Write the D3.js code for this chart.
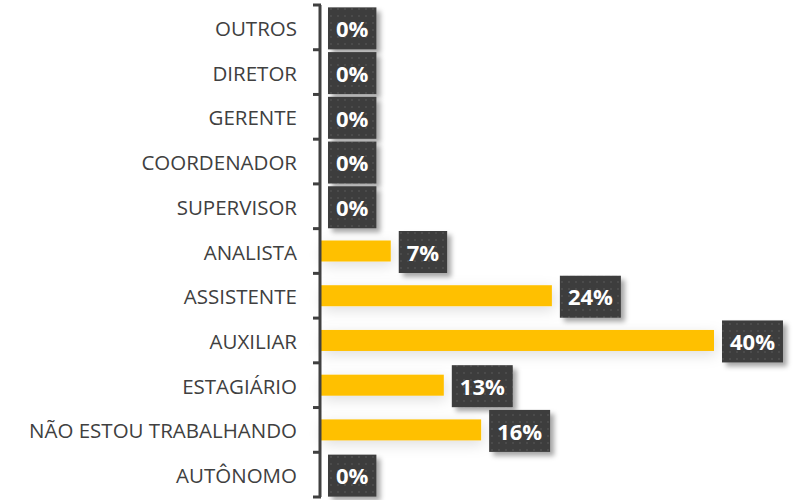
<!DOCTYPE html>
<html>
<head>
<meta charset="utf-8">
<script src="https://cdn.jsdelivr.net/npm/d3@7"></script>
<style>
    body { margin: 0; background: #fff; }
    .cat-label { font-family: "Open Sans", sans-serif; font-size: 20.5px; fill: #404040; }
    .val-label { font-family: "Open Sans", sans-serif; font-size: 22px; font-weight: 700; fill: #fff; }
</style>
</head>
<body>
<div id="chart"></div>
<script>
var categories = ["OUTROS", "DIRETOR", "GERENTE", "COORDENADOR", "SUPERVISOR", "ANALISTA",
    "ASSISTENTE", "AUXILIAR", "ESTAGIÁRIO", "NÃO ESTOU TRABALHANDO", "AUTÔNOMO"];
// bar lengths (labels are the rounded figures)
var values = [0, 0, 0, 0, 0, 7.1, 23.5, 40, 12.5, 16.3, 0];
var valueLabels = ["0%", "0%", "0%", "0%", "0%", "7%", "24%", "40%", "13%", "16%", "0%"];

var width = 796, height = 500;

var svg = d3.select("#chart")
    .append("svg")
    .attr("width", width)
    .attr("height", height);

var defs = svg.append("defs");

// soft shadow for bars
var barShadow = defs.append("filter").attr("id", "barShadow")
    .attr("x", "-20%").attr("y", "-100%").attr("width", "140%").attr("height", "300%");
barShadow.append("feDropShadow")
    .attr("dx", 2).attr("dy", 4).attr("stdDeviation", 7)
    .attr("flood-color", "#000").attr("flood-opacity", 0.13);

// shadow for the label boxes
var boxShadow = defs.append("filter").attr("id", "boxShadow")
    .attr("x", "-30%").attr("y", "-30%").attr("width", "170%").attr("height", "170%");
boxShadow.append("feDropShadow")
    .attr("dx", 4).attr("dy", 4).attr("stdDeviation", 2.5)
    .attr("flood-color", "#000").attr("flood-opacity", 0.35);

// dotted texture on the boxes
var dots = defs.append("pattern").attr("id", "dots")
    .attr("width", 7).attr("height", 7).attr("patternUnits", "userSpaceOnUse");
dots.append("rect").attr("width", 7).attr("height", 7).attr("fill", "#3d3d3d");
dots.append("circle").attr("cx", 2).attr("cy", 2).attr("r", 1).attr("fill", "#4f4f4f");

var y = d3.scaleBand()
    .domain(categories)
    .range([5, 497])
    .paddingInner(0.53)
    .paddingOuter(0.265);

var x = d3.scaleLinear()
    .domain([0, 40])
    .range([321, 714]);

var data = categories.map(function(c, i) {
    return { cat: c, value: values[i], label: valueLabels[i] };
});

// bars
svg.selectAll(".bar")
    .data(data.filter(function(d) { return d.value > 0; }))
    .enter()
    .append("rect")
    .attr("class", "bar")
    .attr("x", x(0))
    .attr("y", function(d) { return y(d.cat); })
    .attr("width", function(d) { return x(d.value) - x(0); })
    .attr("height", y.bandwidth())
    .attr("fill", "#ffc000")
    .attr("filter", "url(#barShadow)");

// axis labels
var yAxis = d3.axisLeft(y).tickSize(0).tickPadding(23);
var axisG = svg.append("g")
    .attr("transform", "translate(320,2)")
    .call(yAxis);
axisG.select(".domain").remove();
axisG.selectAll("text")
    .attr("class", "cat-label")
    .attr("font-size", null)
    .attr("font-family", null);

// axis line with boundary ticks
var step = y.step();
var bounds = d3.range(categories.length + 1).map(function(i) { return y.range()[0] + i * step; });
svg.append("line")
    .attr("x1", 320).attr("x2", 320)
    .attr("y1", bounds[0]).attr("y2", bounds[bounds.length - 1])
    .attr("stroke", "#404040").attr("stroke-width", 3);
svg.selectAll(".btick")
    .data(bounds)
    .enter()
    .append("line")
    .attr("class", "btick")
    .attr("x1", 313).attr("x2", 321)
    .attr("y1", function(d) { return d; })
    .attr("y2", function(d) { return d; })
    .attr("stroke", "#404040").attr("stroke-width", 3);

// value boxes
var lab = svg.selectAll(".val")
    .data(data)
    .enter()
    .append("g")
    .attr("class", "val");

lab.append("text")
    .attr("class", "val-label")
    .attr("text-anchor", "middle")
    .attr("dy", "0.35em")
    .text(function(d) { return d.label; });

lab.each(function(d) {
    var g = d3.select(this);
    var tw = g.select("text").node().getComputedTextLength();
    var bw = tw + 16, bh = 42;
    var left = x(d.value) + (d.value > 0 ? 8 : 7);
    var cy = y(d.cat) + y.bandwidth() / 2 + 1;
    g.insert("rect", "text")
        .attr("x", left).attr("y", cy - bh / 2)
        .attr("width", bw).attr("height", bh)
        .attr("fill", "url(#dots)")
        .attr("filter", "url(#boxShadow)");
    g.select("text").attr("x", left + bw / 2).attr("y", cy + 1);
});
</script>
</body>
</html>
